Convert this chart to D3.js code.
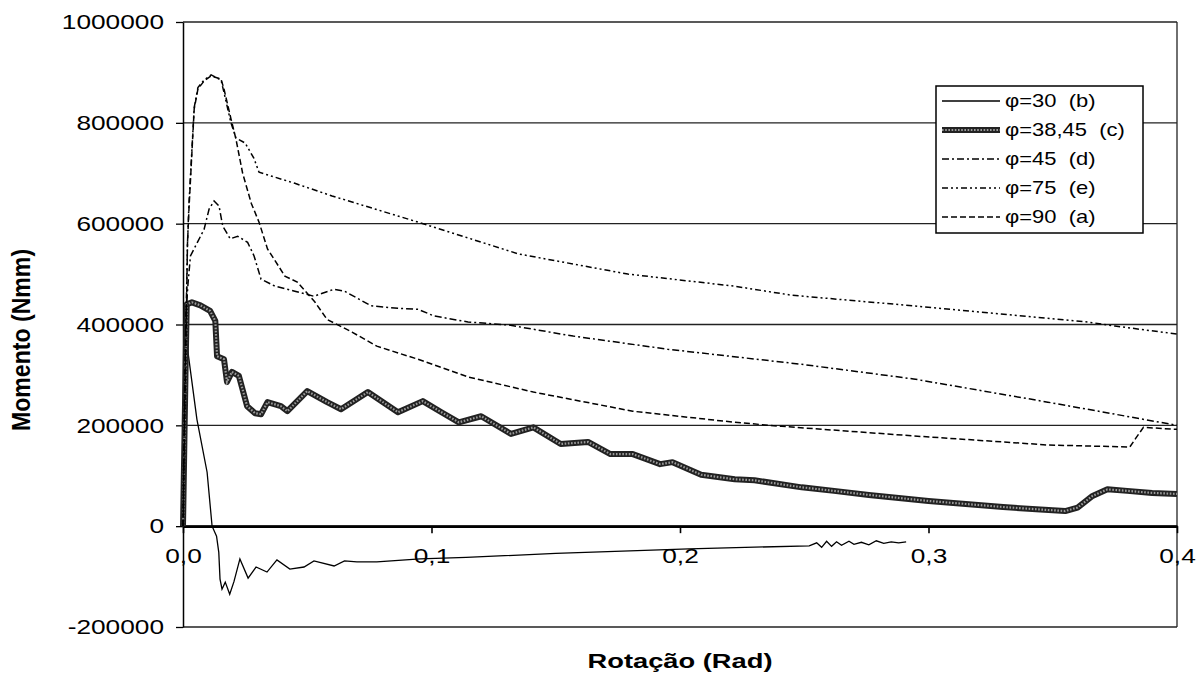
<!DOCTYPE html>
<html><head><meta charset="utf-8">
<script src="https://cdn.jsdelivr.net/npm/d3@7"></script>
<style>
body{margin:0;background:#fff;}
svg{display:block;font-family:"Liberation Sans",Arial,sans-serif;}
</style></head><body>
<svg id="c" width="1204" height="683"></svg>
<script>
// ---- data ----
const xTicks = [0, 0.1, 0.2, 0.3, 0.4];
const xTickLabels = ["0,0", "0,1", "0,2", "0,3", "0,4"];
const yTicks = [-200000, 0, 200000, 400000, 600000, 800000, 1000000];
const seriesNames = ["φ=30  (b)", "φ=38,45  (c)", "φ=45  (d)", "φ=75  (e)", "φ=90  (a)"];

const phi30 = [[0,0],[0.0008,380000],[0.0016,360000],[0.0056,212000],[0.0097,107000],[0.0117,0],[0.0135,-20000],[0.0144,-52000],[0.0149,-105000],[0.0157,-125000],[0.017,-111000],[0.0188,-135000],[0.0205,-110000],[0.0229,-65000],[0.0262,-103000],[0.0294,-81000],[0.0338,-91000],[0.0378,-67000],[0.043,-85000],[0.0487,-81000],[0.0527,-69000],[0.0608,-79000],[0.065,-69000],[0.07,-71000],[0.078,-71000],[0.0954,-65000],[0.114,-62000],[0.15,-54000],[0.2036,-45000],[0.252,-39000],[0.255,-33000],[0.257,-42000],[0.259,-30000],[0.261,-40000],[0.263,-31000],[0.265,-38000],[0.268,-30000],[0.27,-36000],[0.273,-32000],[0.276,-37000],[0.279,-29000],[0.282,-34000],[0.285,-31000],[0.288,-33000],[0.291,-31000]];

const phi3845 = [[0,0],[0.0005,150000],[0.001,300000],[0.0015,440000],[0.0036,444000],[0.007,438000],[0.0109,427000],[0.013,407000],[0.0137,337000],[0.0165,331000],[0.0177,286000],[0.0197,306000],[0.0225,298000],[0.0258,238000],[0.029,224000],[0.0314,222000],[0.034,246000],[0.0394,238000],[0.042,228000],[0.05,268000],[0.058,246000],[0.0636,232000],[0.0744,266000],[0.0865,226000],[0.0965,248000],[0.104,226000],[0.111,206000],[0.12,218000],[0.132,183000],[0.141,196000],[0.152,163000],[0.163,167000],[0.172,143000],[0.181,143000],[0.192,123000],[0.197,127000],[0.2085,102000],[0.222,93000],[0.23,91000],[0.249,77000],[0.262,70000],[0.276,62000],[0.3,50000],[0.315,44000],[0.33,38000],[0.345,33000],[0.355,30000],[0.36,37000],[0.366,60000],[0.372,73000],[0.38,70000],[0.39,66000],[0.4,64000]];

const phi45 = [[0,0],[0.0006,250000],[0.0012,420000],[0.002,480000],[0.003,536000],[0.006,565000],[0.0085,589000],[0.0105,629000],[0.0125,645000],[0.0145,635000],[0.016,595000],[0.019,570000],[0.022,575000],[0.026,563000],[0.0286,536000],[0.0314,490000],[0.037,476000],[0.045,466000],[0.0527,456000],[0.0608,470000],[0.065,466000],[0.0757,437000],[0.0865,432000],[0.0946,430000],[0.101,417000],[0.1147,405000],[0.131,399000],[0.157,377000],[0.195,351000],[0.249,321000],[0.294,292000],[0.348,246000],[0.4,200000]];

const phi75 = [[0,0],[0.001,350000],[0.0018,560000],[0.0024,640000],[0.0045,830000],[0.006,870000],[0.0085,885000],[0.0113,895000],[0.0153,885000],[0.0165,860000],[0.0193,800000],[0.0213,770000],[0.025,760000],[0.0285,730000],[0.0306,702000],[0.045,680000],[0.06,655000],[0.0946,603000],[0.135,540000],[0.179,500000],[0.222,476000],[0.245,458000],[0.294,437000],[0.364,405000],[0.375,397000],[0.4,381000]];

const phi90 = [[0,0],[0.001,300000],[0.0018,560000],[0.0024,629000],[0.0045,827000],[0.006,867000],[0.0085,883000],[0.0113,893000],[0.0153,887000],[0.0165,867000],[0.0193,808000],[0.0213,768000],[0.024,700000],[0.0275,640000],[0.0306,603000],[0.034,550000],[0.041,496000],[0.046,484000],[0.053,445000],[0.058,410000],[0.068,385000],[0.078,357000],[0.0946,331000],[0.1147,296000],[0.141,266000],[0.181,228000],[0.222,206000],[0.241,198000],[0.294,179000],[0.348,161000],[0.381,157000],[0.3835,175000],[0.3865,196000],[0.4,192000]];

// ---- layout ----
const svg = d3.select("#c");
const L = 183, R = 1177, T = 22, B = 627;
const x = d3.scaleLinear().domain([0, 0.4]).range([L, R]);
const y = d3.scaleLinear().domain([-200000, 1000000]).range([B, T]);
const SX = 1.25;

// gridlines
svg.append("g").selectAll("line").data(yTicks).join("line")
  .attr("x1", L).attr("x2", R).attr("y1", d => y(d)).attr("y2", d => y(d))
  .attr("stroke", "#222").attr("stroke-width", 1.3);
// right border
svg.append("line").attr("x1", R).attr("x2", R).attr("y1", T).attr("y2", B)
  .attr("stroke", "#222").attr("stroke-width", 1.3);

// y axis
const yAxis = svg.append("g").attr("transform", `translate(${L},0)`)
  .call(d3.axisLeft(y).tickValues(yTicks).tickSize(7).tickSizeOuter(0).tickFormat(d => String(d)));
yAxis.select(".domain").attr("stroke", "#000").attr("stroke-width", 1.5);
yAxis.selectAll(".tick line").attr("stroke", "#000").attr("stroke-width", 1.3);
yAxis.selectAll(".tick text")
  .attr("font-size", 21).attr("font-family", "Liberation Sans, Arial, sans-serif")
  .attr("fill", "#000").attr("x", -19 / SX).attr("transform", `scale(${SX},1)`);

// x axis at y=0
const xAxis = svg.append("g").attr("transform", `translate(0,${y(0)})`)
  .call(d3.axisBottom(x).tickValues(xTicks).tickSize(7).tickSizeOuter(0).tickFormat((d, i) => xTickLabels[i]));
xAxis.select(".domain").attr("stroke", "#000").attr("stroke-width", 2.6);
xAxis.selectAll(".tick line").attr("stroke", "#000").attr("stroke-width", 1.6);
xAxis.selectAll(".tick text")
  .attr("font-size", 21).attr("font-family", "Liberation Sans, Arial, sans-serif")
  .attr("fill", "#000").attr("y", 22).attr("transform", `scale(${SX},1)`);

// axis titles
svg.append("text").attr("transform", `translate(${(L + R) / 2},668) scale(1.3,1)`)
  .attr("text-anchor", "middle").attr("font-size", 21).attr("font-weight", "bold")
  .text("Rotação (Rad)");
svg.append("text").attr("transform", `translate(30,340) rotate(-90) scale(1.1,1.25)`)
  .attr("text-anchor", "middle").attr("font-size", 21).attr("font-weight", "bold")
  .text("Momento (Nmm)");

// lines
const line = d3.line().x(d => x(d[0])).y(d => y(d[1]));
const styles = [
  {data: phi30, dash: null, w: 1.3},
  {data: phi3845, thick: true},
  {data: phi45, dash: "7,3,2,3", w: 1.5},
  {data: phi75, dash: "6,3,2,3,2,3", w: 1.5},
  {data: phi90, dash: "6,3", w: 1.5}
];
const gL = svg.append("g");
styles.forEach(s => {
  if (s.thick) {
    gL.append("path").attr("d", line(s.data)).attr("fill", "none")
      .attr("stroke", "#222").attr("stroke-width", 6).attr("stroke-linejoin", "round");
    gL.append("path").attr("d", line(s.data)).attr("fill", "none")
      .attr("stroke", "#9a9a9a").attr("stroke-width", 2.2).attr("stroke-dasharray", "1.6,1.6");
  } else {
    gL.append("path").attr("d", line(s.data)).attr("fill", "none")
      .attr("stroke", "#000").attr("stroke-width", s.w)
      .attr("stroke-dasharray", s.dash);
  }
});

// legend
const lg = svg.append("g");
lg.append("rect").attr("x", 936).attr("y", 86).attr("width", 207).attr("height", 147)
  .attr("fill", "#fff").attr("stroke", "#000").attr("stroke-width", 1.5);
const rowY = [101, 130, 159, 188, 217];
styles.forEach((s, i) => {
  const yy = rowY[i];
  if (s.thick) {
    lg.append("line").attr("x1", 942).attr("x2", 1000).attr("y1", yy).attr("y2", yy)
      .attr("stroke", "#222").attr("stroke-width", 6);
    lg.append("line").attr("x1", 942).attr("x2", 1000).attr("y1", yy).attr("y2", yy)
      .attr("stroke", "#9a9a9a").attr("stroke-width", 2.2).attr("stroke-dasharray", "1.6,1.6");
  } else {
    lg.append("line").attr("x1", 942).attr("x2", 1000).attr("y1", yy).attr("y2", yy)
      .attr("stroke", "#000").attr("stroke-width", s.w).attr("stroke-dasharray", s.dash);
  }
  lg.append("text").attr("transform", `translate(1005,${yy + 6}) scale(1.22,1)`)
    .attr("font-size", 18).attr("xml:space", "preserve").style("white-space", "pre")
    .text(seriesNames[i]);
});
</script>
</body></html>
